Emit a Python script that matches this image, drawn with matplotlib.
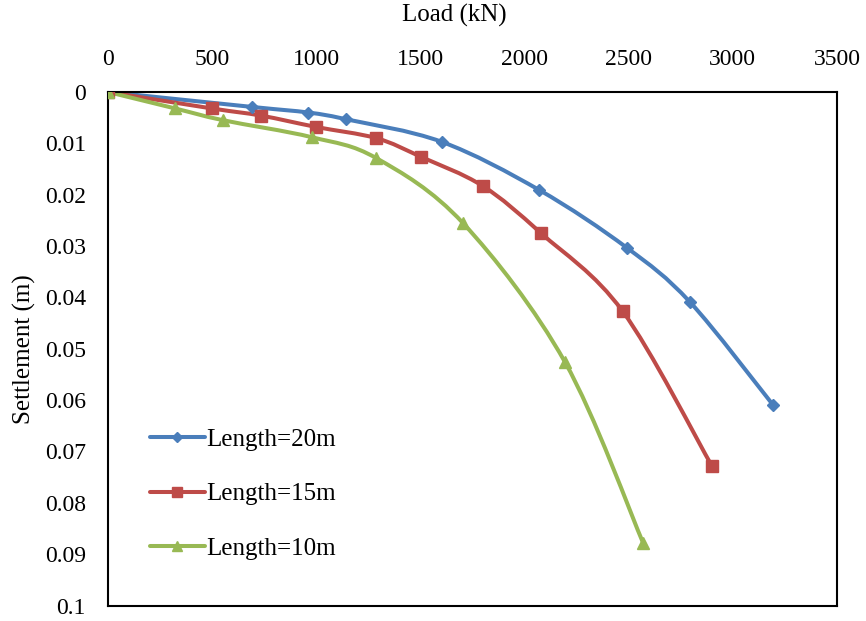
import matplotlib.pyplot as plt
import numpy as np
from matplotlib.path import Path
from matplotlib.patches import PathPatch
from matplotlib.lines import Line2D
from matplotlib.ticker import FuncFormatter

plt.rcParams['font.family'] = ['Liberation Serif', 'DejaVu Serif']

# Load (kN) vs settlement (m)
load_20 = [0, 690, 962, 1142, 1602, 2071, 2490, 2794, 3194]
sett_20 = [0, 0.0029, 0.0040, 0.0053, 0.0097, 0.0191, 0.0303, 0.0409, 0.0610]

load_15 = [0, 498, 735, 998, 1289, 1501, 1799, 2079, 2471, 2899]
sett_15 = [0, 0.0032, 0.0046, 0.0068, 0.0090, 0.0126, 0.0183, 0.0275, 0.0427, 0.0728]

load_10 = [0, 322, 553, 978, 1289, 1706, 2194, 2570]
sett_10 = [0, 0.0032, 0.0055, 0.0088, 0.0129, 0.0256, 0.0526, 0.0879]

labels = ['Length=20m', 'Length=15m', 'Length=10m']
colors = ['#4A7EBB', '#BE4B48', '#98B954']
markers = ['D', 's', '^']
msizes = [6, 8, 8.5]


def smooth_path(xs, ys):
    """
    Excel-style smoothed line: cubic bezier through every point
    """
    p = np.column_stack([xs, ys]).astype(float)
    n = len(p)
    verts = [p[0]]
    codes = [Path.MOVETO]
    for i in range(n - 1):
        prev = p[i - 1] if i > 0 else p[i]
        nxt = p[i + 2] if i + 2 < n else p[i + 1]
        c1 = p[i] + (p[i + 1] - prev) / 6
        c2 = p[i + 1] - (nxt - p[i]) / 6
        verts += [c1, c2, p[i + 1]]
        codes += [Path.CURVE4] * 3
    return Path(verts, codes)


fig = plt.figure(figsize=(8.66, 6.21), dpi=100)
ax = fig.add_axes([108 / 866, 1 - 605.5 / 621, (837 - 108) / 866, (605.5 - 92) / 621])

series = [(load_20, sett_20), (load_15, sett_15), (load_10, sett_10)]
handles = []
for (xs, ys), c, m, ms, lab in zip(series, colors, markers, msizes, labels):
    ax.add_patch(PathPatch(smooth_path(xs, ys), facecolor='none', edgecolor=c,
                           linewidth=2.9, capstyle='round', zorder=2))
    ax.plot(xs, ys, linestyle='none', marker=m, markersize=ms, color=c, zorder=3)
    handles.append(Line2D([], [], color=c, linewidth=2.9, marker=m, markersize=ms * 0.85,
                          solid_capstyle='round'))

ax.set_xlim(0, 3500)
ax.set_ylim(0.1, 0)
ax.set_xticks(np.arange(0, 3501, 500))
ax.set_yticks(np.arange(0, 0.1001, 0.01))
ax.yaxis.set_major_formatter(FuncFormatter(lambda v, p: '%g' % round(v, 2)))
ax.xaxis.tick_top()
ax.xaxis.set_label_position('top')
ax.tick_params(axis='both', length=0, labelsize=17, pad=16)
ax.tick_params(axis='y', pad=16)
ax.set_xlabel('Load (kN)', fontsize=18, va='center')
ax.xaxis.set_label_coords(0.4746, 1.15)
ax.set_ylabel('Settlement (m)', fontsize=18, labelpad=6)
for s in ax.spines.values():
    s.set_linewidth(1.5)

ax.legend(handles, labels, loc='upper left', bbox_to_anchor=(0.0576, 0.345),
          frameon=False, fontsize=18, handlelength=2.2, handletextpad=0.05,
          labelspacing=1.28, borderpad=0, borderaxespad=0)

plt.savefig('out.png', dpi=100)
